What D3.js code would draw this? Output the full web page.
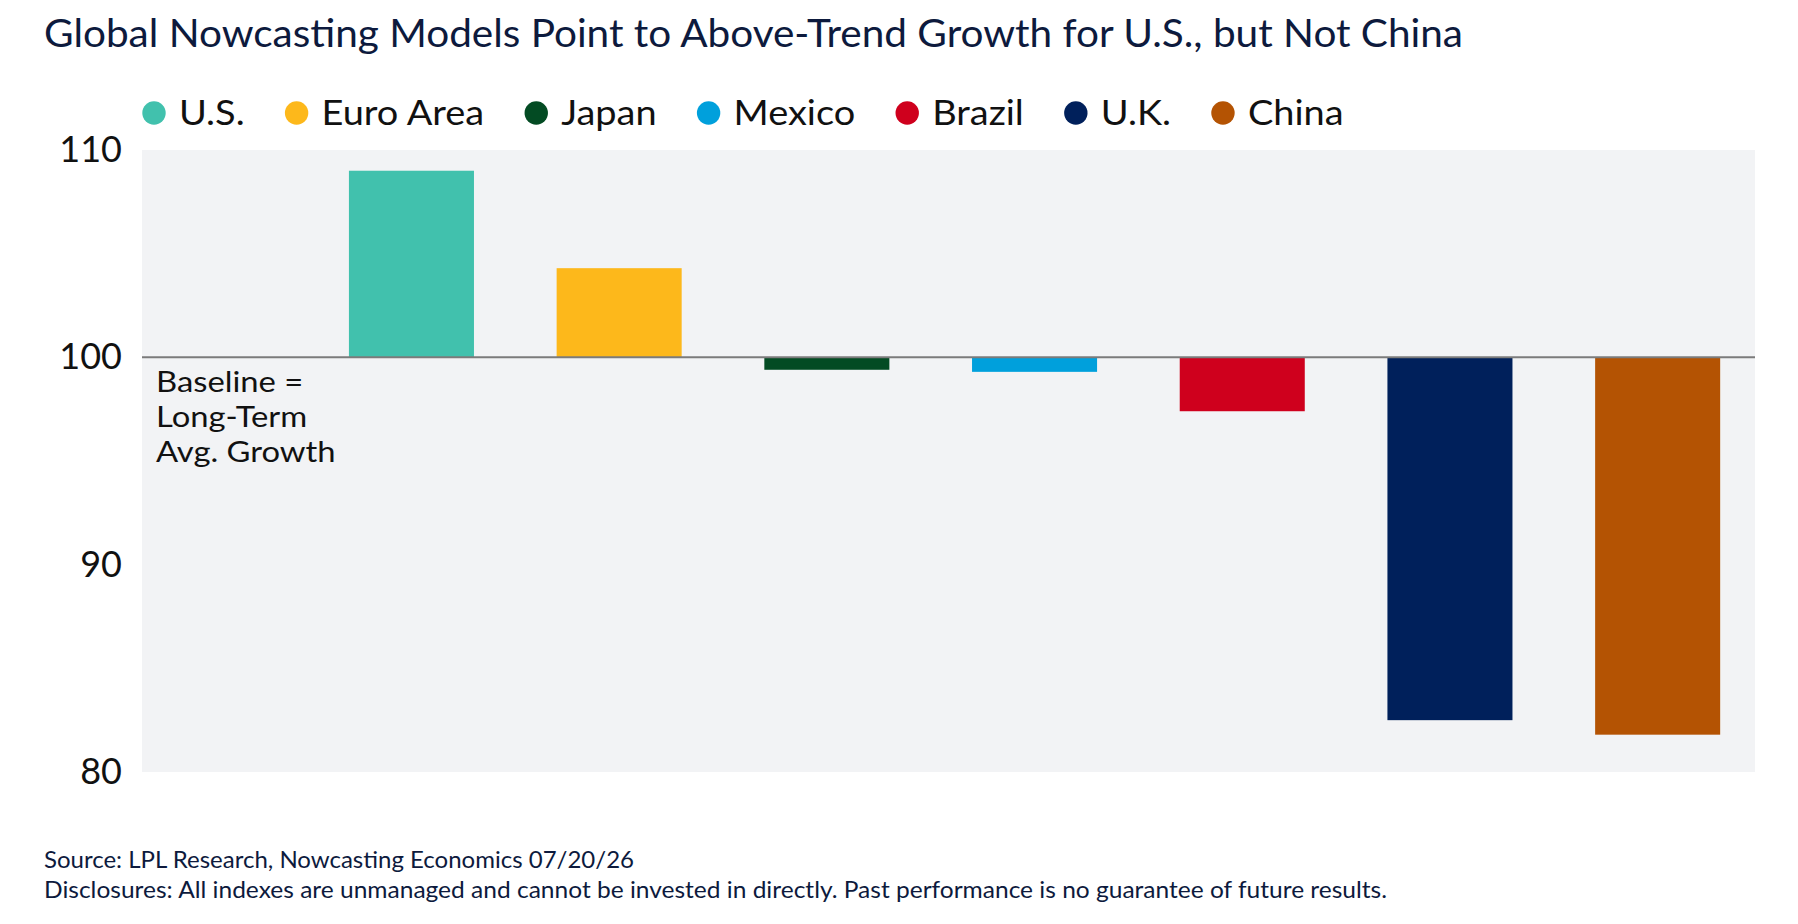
<!DOCTYPE html>
<html><head><meta charset="utf-8">
<script src="https://cdn.jsdelivr.net/npm/d3@7"></script>
<style>body{margin:0;background:#fff;} svg{display:block;font-family:Lato, "Noto Sans", sans-serif;}</style>
</head><body><svg id="c" width="1798" height="924"></svg>
<script>
const categories = ["U.S.","Euro Area","Japan","Mexico","Brazil","U.K.","China"];
const values = [109.0, 104.3, 99.4, 99.3, 97.4, 82.5, 81.8];
const colors = ["#41c1ad","#fdb81b","#034b23","#00a0dc","#cf001d","#00205b","#b45303"];
const yTicks = [80, 90, 100, 110];
const baselineValue = 100;
const title = "Global Nowcasting Models Point to Above-Trend Growth for U.S., but Not China";
const baselineNote = ["Baseline =", "Long-Term", "Avg. Growth"];
const footer = ["Source: LPL Research, Nowcasting Economics 07/20/26",
  "Disclosures: All indexes are unmanaged and cannot be invested in directly. Past performance is no guarantee of future results."];

const svg = d3.select("#c");
const plot = {left:142, right:1755, top:150, bottom:772};
const stretch = 1.115; // reference typeface is wider than Lato

const y = d3.scaleLinear().domain([80,110]).range([plot.bottom, plot.top]);
const x = d3.scaleBand().domain(categories).range([307.6, 1761.5]).paddingInner(0.398).paddingOuter(0.199);
const color = d3.scaleOrdinal().domain(categories).range(colors);

// title
svg.append("text").attr("x",44).attr("y",47).attr("font-size",39).attr("fill","#0d1a3d")
  .attr("textLength",1419).attr("lengthAdjust","spacingAndGlyphs").text(title);

// legend
const leg = svg.append("g");
let cx = 154;
categories.forEach(c => {
  leg.append("circle").attr("cx",cx).attr("cy",113).attr("r",11.7).attr("fill",color(c));
  const t = leg.append("text").attr("x",cx+25).attr("y",124.5).attr("font-size",34).attr("fill","#111").text(c);
  const w = t.node().getComputedTextLength() * stretch;
  t.attr("textLength", w).attr("lengthAdjust","spacingAndGlyphs");
  cx = cx + 25 + w + 52;
});

// plot background
svg.append("rect").attr("x",plot.left).attr("y",plot.top).attr("width",plot.right-plot.left)
  .attr("height",plot.bottom-plot.top).attr("fill","#f2f3f5");

// bars
const data = categories.map((c,i)=>({c, v: values[i]}));
svg.append("g").selectAll("rect").data(data).join("rect")
  .attr("x", d=>x(d.c)).attr("width", x.bandwidth())
  .attr("y", d=>Math.min(y(d.v), y(baselineValue)))
  .attr("height", d=>Math.abs(y(d.v)-y(baselineValue)))
  .attr("fill", d=>color(d.c));

// baseline
svg.append("line").attr("x1",plot.left).attr("x2",plot.right)
  .attr("y1",y(baselineValue)).attr("y2",y(baselineValue))
  .attr("stroke","#7b7b7b").attr("stroke-width",2);

// y axis
const ax = svg.append("g").attr("transform",`translate(${plot.left},0)`)
  .call(d3.axisLeft(y).tickValues(yTicks).tickSize(0).tickPadding(20).tickFormat(d3.format("d")));
ax.select(".domain").remove();
ax.selectAll("text").attr("font-size",36).attr("fill","#111").attr("font-family","Lato, 'Noto Sans', sans-serif");

// baseline note
const note = svg.append("g").selectAll("text").data(baselineNote).join("text")
  .attr("x",156).attr("y",(d,i)=>392+i*35).attr("font-size",29).attr("fill","#111").text(d=>d);
note.each(function(){
  const w = this.getComputedTextLength() * 1.13;
  d3.select(this).attr("textLength", w).attr("lengthAdjust","spacingAndGlyphs");
});

// footer
svg.append("g").selectAll("text").data(footer).join("text")
  .attr("x",44).attr("y",(d,i)=>868+i*30).attr("font-size",24).attr("fill","#0d1a3d")
  .attr("textLength",(d,i)=>[590,1343][i]).attr("lengthAdjust","spacingAndGlyphs").text(d=>d);
</script></body></html>
